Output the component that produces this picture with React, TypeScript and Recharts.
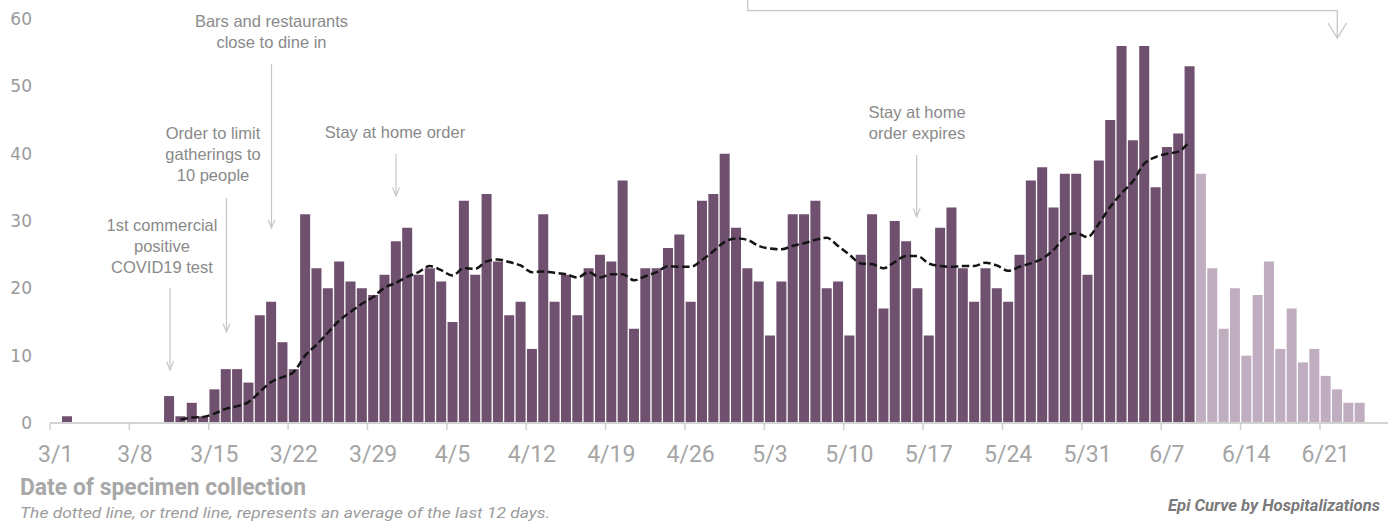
import React from 'react';
import { ComposedChart, Bar, Line, XAxis, YAxis } from 'recharts';

// ---- categories: every day from 3/1 to 6/26 ----
const MONTHS = [3, 4, 5, 6];
const MONTH_DAYS = [31, 30, 31, 26];
const dates: string[] = MONTHS.flatMap((m, i) =>
  Array.from({ length: MONTH_DAYS[i] }, (_, d) => `${m}/${d + 1}`)
);

// ---- hospitalizations by date of specimen collection (complete) ----
const confirmedMarch = [0, 1, 0, 0, 0, 0, 0, 0, 0, 0, 4, 1, 3, 1, 5, 8, 8, 6, 16, 18, 12, 8, 31, 23, 20, 24, 21, 20, 19, 22, 27];
const confirmedApril = [29, 22, 23, 21, 15, 33, 22, 34, 24, 16, 18, 11, 31, 18, 22, 16, 23, 25, 24, 36, 14, 23, 23, 26, 28, 18, 33, 34, 40, 29];
const confirmedMay = [23, 21, 13, 21, 31, 31, 33, 20, 21, 13, 25, 31, 17, 30, 27, 20, 13, 29, 32, 23, 18, 23, 20, 18, 25, 36, 38, 32, 37, 37, 22];
const confirmedJune = [39, 45, 56, 42, 56, 35, 41, 43, 53];
// ---- recent days, still incomplete (6/10 onward) ----
const pendingJune = [37, 23, 14, 20, 10, 19, 24, 11, 17, 9, 11, 7, 5, 3, 3];
const PENDING_START = '6/10';

// ---- 12-day trend line (3/12 to 6/9) ----
const trendMarch = [0.5, 0.8, 0.9, 1.4, 2.1, 2.5, 3.1, 4.6, 6.1, 6.8, 7.6, 10.0, 11.6, 13.4, 15.2, 16.5, 17.7, 18.7, 20.1, 20.8];
const trendApril = [21.7, 22.4, 23.3, 22.7, 21.9, 23.0, 22.9, 24.0, 24.3, 23.9, 23.4, 22.4, 22.5, 22.3, 22.1, 21.6, 22.4, 21.6, 22.1, 22.1, 21.2, 21.8, 22.4, 23.3, 23.2, 23.2, 24.2, 25.5, 26.9, 27.4];
const trendMay = [27.2, 26.3, 25.9, 25.8, 26.3, 26.7, 27.2, 27.5, 26.3, 25.0, 23.7, 23.6, 23.0, 23.9, 24.8, 24.8, 23.7, 23.3, 23.2, 23.3, 23.3, 23.8, 23.4, 22.6, 23.2, 23.7, 24.4, 25.7, 27.6, 28.2, 27.6];
const trendJune = [29.6, 32.1, 34.1, 35.9, 38.5, 39.5, 40.0, 40.3, 41.8];
const TREND_START = '3/12';

const yTicks = [0, 10, 20, 30, 40, 50, 60];

const confirmed = [...confirmedMarch, ...confirmedApril, ...confirmedMay, ...confirmedJune];
const trend = [...trendMarch, ...trendApril, ...trendMay, ...trendJune];
const pendingIdx = dates.indexOf(PENDING_START);
const trendIdx = dates.indexOf(TREND_START);

const data = dates.map((date, i) => ({
  date,
  confirmed: i < confirmed.length ? confirmed[i] : null,
  pending: i >= pendingIdx && i - pendingIdx < pendingJune.length ? pendingJune[i - pendingIdx] : null,
  trend: i >= trendIdx && i - trendIdx < trend.length ? trend[i - trendIdx] : null,
}));

const DARK = '#6f506e';
const LIGHT = '#c0aec0';
const GRAY_TEXT = '#8a8a8a';
const ARROW = '#c6c6c6';

const XTick = (props: any) => {
  const { x, y, payload } = props;
  const half = payload && typeof payload.offset === 'number' ? payload.offset : 5.67;
  return (
    <g>
      <line x1={x - half} x2={x - half} y1={y} y2={y + 7} stroke="#cfcfcf" strokeWidth={1.5} />
      <text x={x} y={y + 38.5} textAnchor="middle" fontFamily="Roboto, sans-serif" fontSize={23} fill="#a5a5a5">
        {payload.value}
      </text>
    </g>
  );
};

const YTick = (props: any) => {
  const { x, y, payload } = props;
  return (
    <text x={x - 18} y={y + 6} textAnchor="end" fontFamily="'DejaVu Sans', sans-serif" fontSize={17} fill="#9a9a9a">
      {payload.value}
    </text>
  );
};

const Arrow = ({ x, y1, y2, w = 3.4, h = 8.5 }: { x: number; y1: number; y2: number; w?: number; h?: number }) => (
  <g stroke={ARROW} strokeWidth={1.2} fill="none">
    <line x1={x} x2={x} y1={y1} y2={y2} />
    <polyline points={`${x - w},${y2 - h} ${x},${y2} ${x + w},${y2 - h}`} />
  </g>
);

const Note = ({ x, ys, lines }: { x: number; ys: number[]; lines: string[] }) => (
  <g>
    {lines.map((l, i) => (
      <text key={i} x={x} y={ys[i]} dominantBaseline="central" textAnchor="middle" fontFamily="'Liberation Sans', Arial, sans-serif" fontSize={16.5} fill={GRAY_TEXT}>
        {l}
      </text>
    ))}
  </g>
);

export default function App() {
  return (
    <div style={{ position: 'absolute', left: 0, top: 0, width: 1397, height: 525, background: '#fff' }}>
      <ComposedChart
        width={1397}
        height={525}
        data={data}
        margin={{ top: 19, right: 9, bottom: 0, left: 0 }}
        barCategoryGap="6%"
      >
        <XAxis
          dataKey="date"
          interval={6}
          tickSize={0}
          tickMargin={0}
          height={102}
          tickLine={false}
          axisLine={{ stroke: '#d2d2d2', strokeWidth: 2 }}
          tick={<XTick />}
        />
        <YAxis
          domain={[0, 60]}
          ticks={yTicks}
          width={50}
          tickSize={0}
          tickMargin={0}
          axisLine={false}
          tickLine={false}
          tick={<YTick />}
        />
        <Bar dataKey="confirmed" stackId="a" fill={DARK} isAnimationActive={false} />
        <Bar dataKey="pending" stackId="a" fill={LIGHT} isAnimationActive={false} />
        <Line
          dataKey="trend"
          type="monotone"
          stroke="#151515"
          strokeWidth={2.5}
          strokeDasharray="7.5 3.5"
          dot={false}
          activeDot={false}
          connectNulls={false}
          isAnimationActive={false}
        />
      </ComposedChart>
      <svg width={1397} height={525} style={{ position: 'absolute', left: 0, top: 0, pointerEvents: 'none' }}>
        <Note x={162} ys={[225, 246, 267]} lines={['1st commercial', 'positive', 'COVID19 test']} />
        <Arrow x={170} y1={288} y2={370} />
        <Note x={213} ys={[133, 153.5, 174.5]} lines={['Order to limit', 'gatherings to', '10 people']} />
        <Arrow x={226.5} y1={198} y2={332} />
        <Note x={271.5} ys={[20.5, 41.5]} lines={['Bars and restaurants', 'close to dine in']} />
        <Arrow x={271.5} y1={64} y2={228} />
        <Note x={395} ys={[131.5]} lines={['Stay at home order']} />
        <Arrow x={396} y1={154} y2={196} />
        <Note x={917} ys={[111.5, 132.5]} lines={['Stay at home', 'order expires']} />
        <Arrow x={916.7} y1={155} y2={217} />
        <g stroke={ARROW} strokeWidth={1.3} fill="none">
          <polyline points="747.7,0 747.7,10.7 1337.3,10.7 1337.3,38" />
          <polyline points="1328,23 1337.3,38 1346.6,23" />
        </g>
        <text x={20} y={494.5} fontFamily="Roboto, sans-serif" fontWeight={700} fontSize={23} fill="#a8a8a8" textLength={286} lengthAdjust="spacingAndGlyphs">
          Date of specimen collection
        </text>
        <text x={20} y={518} fontFamily="Roboto, sans-serif" fontStyle="italic" fontSize={15} fill="#9c9c9c" textLength={530} lengthAdjust="spacingAndGlyphs">
          The dotted line, or trend line, represents an average of the last 12 days.
        </text>
        <text x={1168} y={511} fontFamily="Roboto, sans-serif" fontStyle="italic" fontWeight={700} fontSize={17} fill="#7a7a7a" textLength={212} lengthAdjust="spacingAndGlyphs">
          Epi Curve by Hospitalizations
        </text>
      </svg>
    </div>
  );
}
